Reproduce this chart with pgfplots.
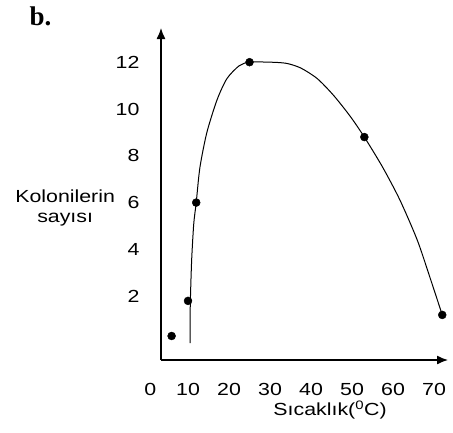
\documentclass[border=0pt]{standalone}
\usepackage{fontspec}
\setmainfont{Liberation Sans}[FakeStretch=1.22]
\newfontfamily\bfont{Liberation Serif}
\usepackage{pgfplots}
\pgfplotsset{compat=1.18}
\usetikzlibrary{arrows.meta}

\newcommand{\lblfont}{\fontsize{17.5}{20}\selectfont}

\begin{document}
\begin{tikzpicture}
  % picture frame: 1px of the reference = 1pt, axis corner at (161,360)
  \path[use as bounding box] (-161pt,-72pt) rectangle (292pt,360pt);

  \begin{axis}[
    scale only axis,
    width=287pt, height=332pt,
    xmin=3.41, xmax=73.4,
    ymin=-0.726, ymax=13.46,
    axis lines=left,
    axis line style={line width=1.3pt, -{Latex[length=11pt,width=9pt]}},
    major tick length=0pt,
    xtick={10,20,30,40,50,60,70},
    ytick={2,4,6,8,10,12},
    /pgf/number format/assume math mode=true,
    tick label style={font=\lblfont},
    xticklabel style={yshift=-20pt},
    yticklabel style={xshift=-18pt},
    xlabel={S\i cakl\i k(\textsuperscript{0}C)},
    ylabel={Kolonilerin\\say\i s\i},
    xlabel style={font=\lblfont, at={(axis description cs:0.589,-0.15)}, anchor=center},
    ylabel style={font=\lblfont, rotate=-90, align=center,
                  at={(axis description cs:-0.334,0.458)}, anchor=center},
    clip=false,
  ]
    % fitted curve
    \addplot[black, line width=1pt, smooth, tension=0.45] coordinates {
      (10.5,0) (10.5,1.0) (10.6,2.0) (10.9,3.6) (11.4,5.1) (12,6)
      (12.9,7.5) (14.6,9.0) (17.1,10.4) (19.5,11.3) (22.5,11.85)
      (25,12) (30,12) (34,11.95) (37.5,11.75) (41.5,11.3) (45.4,10.6)
      (49.5,9.7) (53,8.8) (57.5,7.5) (61.7,6.1) (65.9,4.4) (69,2.8) (72,1.2)
    };
    % measured points
    \addplot[only marks, mark=*, mark size=4pt, black] coordinates {
      (6,0.3) (10,1.8) (12,6) (25,12) (53,8.8) (72,1.2)
    };
    \node[font=\lblfont, anchor=north] at (axis cs:0.8,-0.726) [yshift=-20pt, inner sep=0.3333em] {0};
  \end{axis}

  \node[font=\bfont\bfseries\fontsize{27}{29}\selectfont, anchor=base west] at (-135pt,334pt) {b.};
\end{tikzpicture}
\end{document}
